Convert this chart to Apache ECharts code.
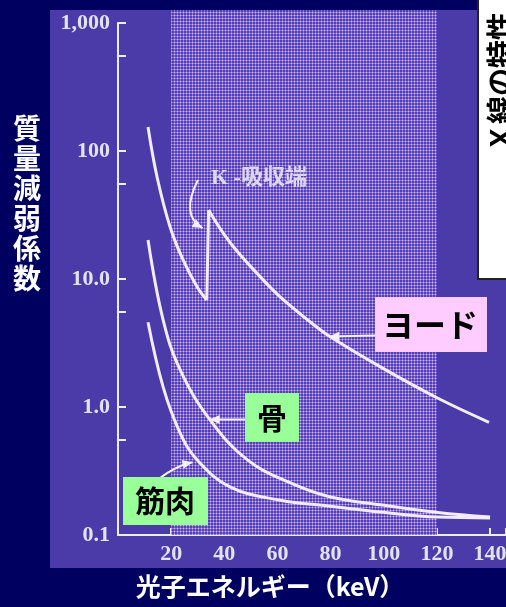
<!DOCTYPE html>
<html>
<head>
<meta charset="utf-8">
<script src="https://cdn.jsdelivr.net/npm/echarts@6/dist/echarts.min.js"></script>
<style>
  html, body { margin: 0; padding: 0; background: #000060; }
  #chart { width: 506px; height: 607px; }
</style>
</head>
<body>
<div id="chart"></div>
<script>
// Axis ticks and labels
const energyTicks = [20, 40, 60, 80, 100, 120, 140];
const massTickLabels = { '-1': '0.1', '0': '1.0', '1': '10.0', '2': '100', '3': '1,000' };

// Shaded diagnostic energy band (keV)
const diagnosticBand = [20, 120];

// Iodine: below the K-edge
const iodineLowEnergy = [11.3, 14.7, 19.6, 24.5, 29.8, 33.4];
const iodineLow = [154, 62.7, 25.5, 14.1, 8.66, 6.85];
// Iodine: above the K-edge
const iodineHighEnergy = [34.1, 42.3, 54.7, 61.1, 73.6, 80, 98.9, 120.4, 139.6];
const iodineHigh = [34.6, 19.1, 9.8, 7.23, 4.4, 3.52, 2.05, 1.17, 0.76];

// Bone
const boneEnergy = [11.3, 17, 23.4, 34.7, 48.7, 64.9, 80, 98.9, 120.4, 140];
const bone = [20.2, 4.78, 1.95, 0.79, 0.386, 0.255, 0.198, 0.172, 0.15, 0.138];

// Muscle
const muscleEnergy = [11.3, 17, 23.4, 29.8, 42.3, 61.1, 80, 98.9, 120.4, 140];
const muscle = [4.6, 1.43, 0.626, 0.386, 0.237, 0.187, 0.168, 0.151, 0.138, 0.136];

const PANEL_TOP = 10;
const axisColor = '#ececf4';
const curveColor = '#f3ecff';
const tickFont = { fontFamily: '"Liberation Serif"', fontWeight: 'bold', fontSize: 22, color: '#e2e2ee' };

function pairs(xs, ys) { return xs.map((x, i) => [x, ys[i]]); }

// Small tile for the dotted screen over the diagnostic band
function hatchTile() {
  const c = document.createElement('canvas');
  c.width = 3; c.height = 3;
  const g = c.getContext('2d');
  g.fillStyle = '#5240b8'; g.fillRect(0, 0, 3, 3);
  g.fillStyle = '#8c74d4'; g.fillRect(0, 0, 3, 1); g.fillRect(0, 0, 1, 3);
  g.fillStyle = '#d8b8f4'; g.fillRect(0, 0, 1, 1);
  return c;
}
const tile = hatchTile();

function curve(name, data, smooth) {
  return {
    type: 'line', name, data, smooth, symbol: 'none', silent: true, z: 5,
    lineStyle: { color: curveColor, width: 3 }
  };
}

const chart = echarts.init(document.getElementById('chart'), null, { renderer: 'canvas' });

chart.setOption({
  backgroundColor: '#000060',
  animation: false,
  grid: { left: 118, right: 0, top: 23, bottom: 72, outerBoundsMode: 'none' },
  xAxis: {
    type: 'value', min: 0, max: 146, interval: 20,
    axisLine: { show: true, lineStyle: { color: axisColor, width: 2 } },
    axisTick: { show: true, inside: true, length: 7, lineStyle: { color: axisColor, width: 2 } },
    splitLine: { show: false },
    axisLabel: Object.assign({
      formatter: v => energyTicks.includes(v) ? String(v) : '',
      margin: 8
    }, tickFont)
  },
  yAxis: {
    type: 'log', logBase: 10, min: 0.1, max: 1000,
    axisLine: { show: true, lineStyle: { color: axisColor, width: 2 } },
    axisTick: { show: true, inside: true, length: 8, lineStyle: { color: axisColor, width: 2 } },
    minorTick: { show: true, splitNumber: 2, length: 8, lineStyle: { color: axisColor, width: 2 } },
    splitLine: { show: false },
    axisLabel: Object.assign({
      formatter: v => massTickLabels[String(Math.round(Math.log10(v)))] || '',
      margin: 8
    }, tickFont)
  },
  series: [
    {
      type: 'custom', clip: false, silent: true, z: 1,
      data: [diagnosticBand],
      renderItem(params, api) {
        const left = api.coord([api.value(0), 0.1]);
        const right = api.coord([api.value(1), 0.1]);
        return {
          type: 'rect',
          shape: { x: left[0], y: PANEL_TOP, width: right[0] - left[0], height: left[1] - PANEL_TOP },
          style: { fill: { image: tile, repeat: 'repeat' } }
        };
      }
    },
    curve('ヨード', pairs(iodineLowEnergy, iodineLow), 0.4),
    curve('ヨードK吸収端', [[iodineLowEnergy[iodineLowEnergy.length - 1], iodineLow[iodineLow.length - 1]],
                          [iodineHighEnergy[0], iodineHigh[0]]], false),
    curve('ヨード', pairs(iodineHighEnergy, iodineHigh), 0.4),
    curve('骨', pairs(boneEnergy, bone), 0.4),
    curve('筋肉', pairs(muscleEnergy, muscle), 0.4)
  ]
});

// Annotation arrows: tips anchored on data points
function px(pt) { return chart.convertToPixel({ gridIndex: 0 }, pt); }

function arrowHead(tip, from, color) {
  const dx = tip[0] - from[0], dy = tip[1] - from[1];
  const len = Math.hypot(dx, dy) || 1;
  const ux = dx / len, uy = dy / len;
  const L = 10, W = 4.5;
  const bx = tip[0] - ux * L, by = tip[1] - uy * L;
  return {
    type: 'polygon', z: 20,
    shape: { points: [tip, [bx - uy * W, by + ux * W], [bx + uy * W, by - ux * W]] },
    style: { fill: color }
  };
}

const arrowColor = '#f4f0ff';
const iodineTip = px([79.5, 3.55]);
const boneTip = px([34.5, 0.8]);
const muscleTip = px([28, 0.37]);
const edgeTip = px([31.8, 25]);

const iodineTail = [375, iodineTip[1] - 1];
const boneTail = [245, boneTip[1]];
const muscleStart = [160, 478];
const muscleCtrl = [176, 466];
const edgeStart = [198, 180];
const edgeCtrl = [180, 215];

const graphics = [
  // panel background
  { type: 'rect', z: -10, silent: true, shape: { x: 50, y: PANEL_TOP, width: 470, height: 558 }, style: { fill: '#4a3ba8' } },
  // side note box
  { type: 'rect', z: 30, shape: { x: 478, y: -4, width: 40, height: 283 }, style: { fill: '#ffffff', stroke: '#222', lineWidth: 2 } },
  { type: 'text', z: 31, x: 500, y: 152, rotation: Math.PI / 2,
    style: { text: 'Ｘ線の特性', fill: '#000', font: 'bold 28px "Noto Sans CJK JP"', align: 'left', verticalAlign: 'middle' } },
  // axis titles
  { type: 'text', z: 30, x: 27, y: 203,
    style: { text: '質\n量\n減\n弱\n係\n数', fill: '#ffffff', font: 'bold 28px "Noto Sans CJK JP"', lineHeight: 30, align: 'center', verticalAlign: 'middle' } },
  { type: 'text', z: 30, x: 270, y: 586,
    style: { text: '光子エネルギー（keV）', fill: '#ffffff', font: 'bold 25px "Noto Sans CJK JP"', align: 'center', verticalAlign: 'middle' } },
  // K-edge note
  { type: 'text', z: 20, x: 211, y: 178,
    style: { text: 'K -吸収端', fill: '#dcd6ee', font: 'bold 22px "Liberation Serif", "Noto Sans CJK JP"', align: 'left', verticalAlign: 'middle' } },
  { type: 'bezierCurve', z: 20, shape: { x1: edgeStart[0], y1: edgeStart[1], cpx1: edgeCtrl[0], cpy1: edgeCtrl[1], x2: edgeTip[0], y2: edgeTip[1] },
    style: { stroke: arrowColor, lineWidth: 2, fill: null } },
  arrowHead(edgeTip, edgeCtrl, arrowColor),
  // iodine label
  { type: 'line', z: 20, shape: { x1: iodineTail[0], y1: iodineTail[1], x2: iodineTip[0], y2: iodineTip[1] }, style: { stroke: arrowColor, lineWidth: 2 } },
  arrowHead(iodineTip, iodineTail, arrowColor),
  { type: 'rect', z: 25, shape: { x: 375, y: 297, width: 112, height: 55 }, style: { fill: '#ffccff' } },
  { type: 'text', z: 26, x: 430, y: 325, style: { text: 'ヨード', fill: '#000', font: 'bold 32px "Noto Sans CJK JP"', align: 'center', verticalAlign: 'middle' } },
  // bone label
  { type: 'line', z: 20, shape: { x1: boneTail[0], y1: boneTail[1], x2: boneTip[0], y2: boneTip[1] }, style: { stroke: arrowColor, lineWidth: 2 } },
  arrowHead(boneTip, boneTail, arrowColor),
  { type: 'rect', z: 25, shape: { x: 245, y: 393, width: 54, height: 49 }, style: { fill: '#99ff99' } },
  { type: 'text', z: 26, x: 272, y: 418, style: { text: '骨', fill: '#000', font: 'bold 30px "Noto Sans CJK JP"', align: 'center', verticalAlign: 'middle' } },
  // muscle label
  { type: 'bezierCurve', z: 20, shape: { x1: muscleStart[0], y1: muscleStart[1], cpx1: muscleCtrl[0], cpy1: muscleCtrl[1], x2: muscleTip[0], y2: muscleTip[1] },
    style: { stroke: arrowColor, lineWidth: 2, fill: null } },
  arrowHead(muscleTip, muscleCtrl, arrowColor),
  { type: 'rect', z: 25, shape: { x: 123, y: 477, width: 85, height: 48 }, style: { fill: '#99ff99' } },
  { type: 'text', z: 26, x: 165, y: 501, style: { text: '筋肉', fill: '#000', font: 'bold 30px "Noto Sans CJK JP"', align: 'center', verticalAlign: 'middle' } }
];

chart.setOption({ graphic: { elements: graphics } });
</script>
</body>
</html>
